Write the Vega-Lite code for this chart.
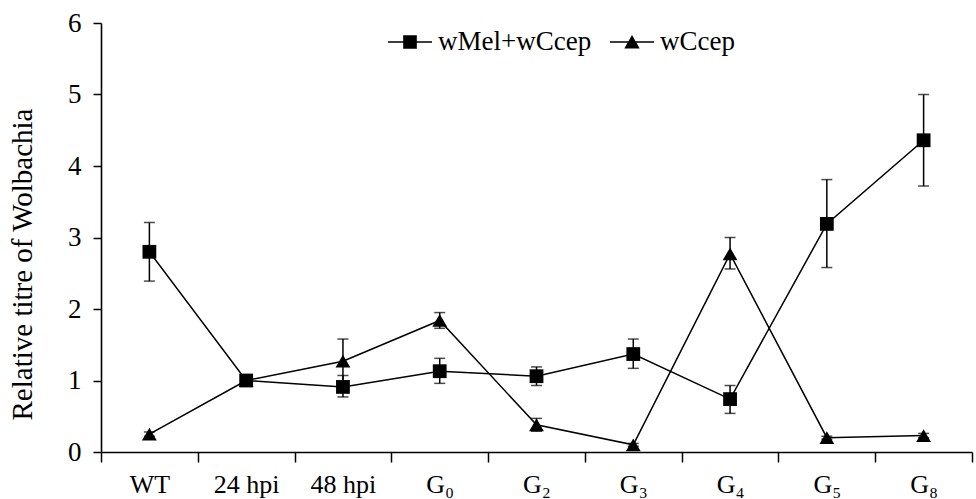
{
  "$schema": "https://vega.github.io/schema/vega-lite/v6.json",
  "width": 871,
  "height": 429,
  "autosize": {"type": "none"},
  "padding": {"left": 101, "top": 23, "right": 4, "bottom": 47},
  "background": "white",
  "config": {
    "view": {"stroke": null},
    "font": "Liberation Serif",
    "axis": {
      "labelFont": "Liberation Serif",
      "titleFont": "Liberation Serif",
      "labelColor": "black",
      "titleColor": "black",
      "domainColor": "black",
      "tickColor": "black",
      "domainWidth": 1.6,
      "tickWidth": 1.5,
      "grid": false
    }
  },
  "data": {
    "values": [
      {"stage": "WT", "idx": 0, "series": "wMel+wCcep", "value": 2.8, "lo": 2.39, "hi": 3.21},
      {"stage": "24 hpi", "idx": 1, "series": "wMel+wCcep", "value": 1.0, "lo": 1.0, "hi": 1.0},
      {"stage": "48 hpi", "idx": 2, "series": "wMel+wCcep", "value": 0.91, "lo": 0.77, "hi": 1.07},
      {"stage": "G0", "idx": 3, "series": "wMel+wCcep", "value": 1.13, "lo": 0.96, "hi": 1.31},
      {"stage": "G2", "idx": 4, "series": "wMel+wCcep", "value": 1.06, "lo": 0.93, "hi": 1.19},
      {"stage": "G3", "idx": 5, "series": "wMel+wCcep", "value": 1.37, "lo": 1.17, "hi": 1.58},
      {"stage": "G4", "idx": 6, "series": "wMel+wCcep", "value": 0.74, "lo": 0.54, "hi": 0.93},
      {"stage": "G5", "idx": 7, "series": "wMel+wCcep", "value": 3.19, "lo": 2.58, "hi": 3.81},
      {"stage": "G8", "idx": 8, "series": "wMel+wCcep", "value": 4.36, "lo": 3.72, "hi": 5.0},
      {"stage": "WT", "idx": 0, "series": "wCcep", "value": 0.25, "lo": 0.22, "hi": 0.28},
      {"stage": "24 hpi", "idx": 1, "series": "wCcep", "value": 1.0, "lo": 1.0, "hi": 1.0},
      {"stage": "48 hpi", "idx": 2, "series": "wCcep", "value": 1.27, "lo": 0.96, "hi": 1.58},
      {"stage": "G0", "idx": 3, "series": "wCcep", "value": 1.84, "lo": 1.73, "hi": 1.95},
      {"stage": "G2", "idx": 4, "series": "wCcep", "value": 0.38, "lo": 0.29, "hi": 0.47},
      {"stage": "G3", "idx": 5, "series": "wCcep", "value": 0.1, "lo": 0.08, "hi": 0.12},
      {"stage": "G4", "idx": 6, "series": "wCcep", "value": 2.77, "lo": 2.56, "hi": 3.0},
      {"stage": "G5", "idx": 7, "series": "wCcep", "value": 0.2, "lo": 0.18, "hi": 0.22},
      {"stage": "G8", "idx": 8, "series": "wCcep", "value": 0.23, "lo": 0.2, "hi": 0.26}
    ]
  },
  "encoding": {
    "x": {
      "field": "idx",
      "type": "quantitative",
      "scale": {"domain": [-0.5, 8.5], "nice": false, "zero": false},
      "axis": {
        "title": null,
        "values": [-0.5, 0.5, 1.5, 2.5, 3.5, 4.5, 5.5, 6.5, 7.5, 8.5],
        "labelExpr": "['WT','24 hpi','48 hpi','G₀','G₂','G₃','G₄','G₅','G₈',''][round(datum.value + 0.5)]",
        "labelOffset": 48.4,
        "labelFontSize": 26,
        "labelPadding": 9,
        "tickSize": 10,
        "labelFlush": false,
        "labelOverlap": false
      }
    },
    "y": {
      "field": "value",
      "type": "quantitative",
      "scale": {"domain": [0, 6], "nice": false},
      "axis": {
        "title": "Relative titre of Wolbachia",
        "values": [0, 1, 2, 3, 4, 5, 6],
        "format": "d",
        "labelFontSize": 27,
        "titleFontSize": 29,
        "titleFontWeight": "normal",
        "titleY": 241,
        "tickSize": 8,
        "labelPadding": 12,
        "titlePadding": 30
      }
    }
  },
  "layer": [
    {
      "mark": {"type": "errorbar", "color": "black", "thickness": 1.5, "ticks": {"size": 11, "thickness": 1.5, "color": "black"}},
      "encoding": {
        "y": {
          "field": "lo",
          "type": "quantitative",
          "scale": {"domain": [0, 6], "nice": false},
          "axis": {
            "title": "Relative titre of Wolbachia",
            "values": [0, 1, 2, 3, 4, 5, 6],
            "format": "d",
            "labelFontSize": 27,
            "titleFontSize": 29,
            "titleFontWeight": "normal",
            "titleY": 241,
            "tickSize": 8,
            "labelPadding": 12,
            "titlePadding": 30
          }
        },
        "y2": {"field": "hi"}
      }
    },
    {
      "mark": {"type": "line", "color": "black", "strokeWidth": 1.5},
      "encoding": {
        "detail": {"field": "series"}
      }
    },
    {
      "transform": [{"filter": "datum.series == 'wMel+wCcep'"}],
      "mark": {"type": "point", "shape": "square", "filled": true, "color": "black", "opacity": 1, "size": 190}
    },
    {
      "transform": [{"filter": "datum.series == 'wCcep'"}],
      "mark": {"type": "point", "shape": "triangle-up", "filled": true, "color": "black", "opacity": 1, "size": 220}
    },
    {
      "transform": [{"filter": "datum.value < 0"}],
      "mark": {"type": "point", "filled": true, "color": "black", "opacity": 1, "size": 1936},
      "encoding": {
        "shape": {
          "field": "series",
          "type": "nominal",
          "scale": {
            "domain": ["wMel+wCcep", "wCcep"],
            "range": [
              "M-1,-0.035L1,-0.035L1,0.035L-1,0.035Z M-0.31,-0.31L0.31,-0.31L0.31,0.31L-0.31,0.31Z",
              "M-1,-0.035L1,-0.035L1,0.035L-1,0.035Z M0,-0.32L0.35,0.3L-0.35,0.3Z"
            ]
          },
          "legend": {
            "title": null,
            "orient": "none",
            "legendX": 287,
            "legendY": -3,
            "direction": "horizontal",
            "symbolSize": 1936,
            "symbolFillColor": "black",
            "symbolStrokeWidth": 0,
            "symbolOpacity": 1,
            "labelFont": "Liberation Serif",
            "labelFontSize": 27,
            "labelColor": "black",
            "labelOffset": 6,
            "columnPadding": 18,
            "padding": 0
          }
        }
      }
    }
  ]
}
